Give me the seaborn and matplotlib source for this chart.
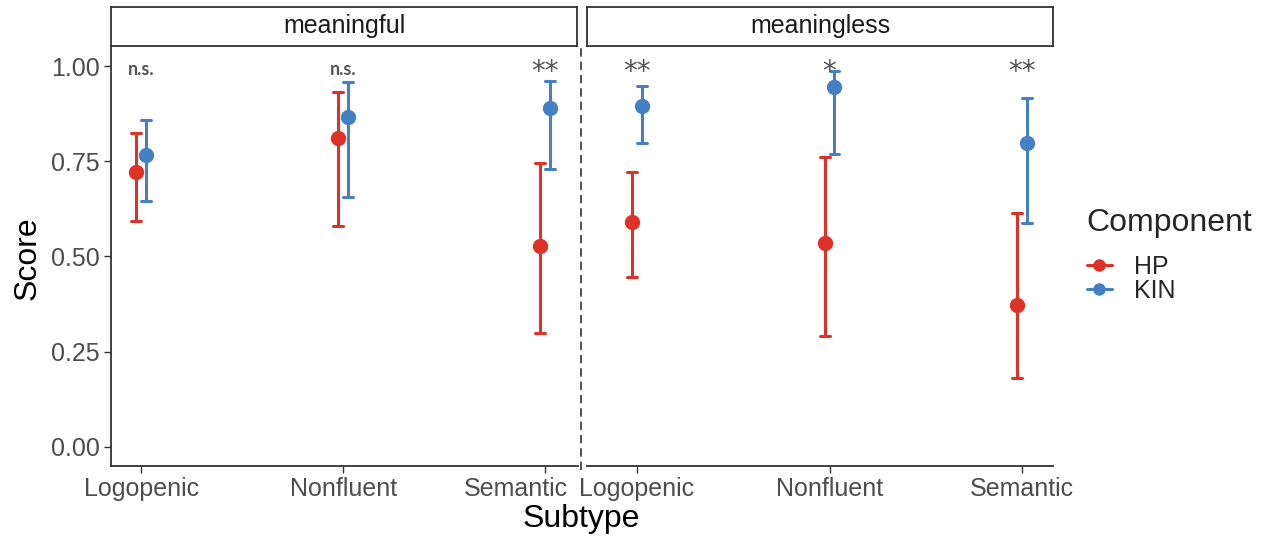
import pandas as pd
import matplotlib
matplotlib.use("Agg")
import matplotlib.pyplot as plt
from matplotlib.lines import Line2D
from matplotlib.transforms import ScaledTranslation
import seaborn as sns

# data
tasks = ["meaningful", "meaningless"]
subtypes = ["Logopenic", "Nonfluent", "Semantic"]
components = ["HP", "KIN"]

meaningful_hp_score = [0.722, 0.811, 0.528]
meaningful_hp_low = [0.592, 0.579, 0.300]
meaningful_hp_high = [0.823, 0.932, 0.745]
meaningful_kin_score = [0.766, 0.866, 0.889]
meaningful_kin_low = [0.645, 0.655, 0.730]
meaningful_kin_high = [0.857, 0.958, 0.961]

meaningless_hp_score = [0.591, 0.535, 0.373]
meaningless_hp_low = [0.447, 0.291, 0.181]
meaningless_hp_high = [0.722, 0.762, 0.613]
meaningless_kin_score = [0.894, 0.944, 0.797]
meaningless_kin_low = [0.798, 0.769, 0.589]
meaningless_kin_high = [0.948, 0.988, 0.915]

meaningful_sig = ["n.s.", "n.s.", "**"]
meaningless_sig = ["**", "*", "**"]

colors = ["#DC3228", "#4480C3"]

series = {
    ("meaningful", "HP"): (meaningful_hp_low, meaningful_hp_score, meaningful_hp_high),
    ("meaningful", "KIN"): (meaningful_kin_low, meaningful_kin_score, meaningful_kin_high),
    ("meaningless", "HP"): (meaningless_hp_low, meaningless_hp_score, meaningless_hp_high),
    ("meaningless", "KIN"): (meaningless_kin_low, meaningless_kin_score, meaningless_kin_high),
}
rows = []
for (task, comp), parts in series.items():
    for part in parts:
        for sub, val in zip(subtypes, part):
            rows.append({"Task": task, "Subtype": sub, "Component": comp, "Score": val})
df = pd.DataFrame(rows)
sig = {"meaningful": meaningful_sig, "meaningless": meaningless_sig}

sns.set_style("white")
plt.rcParams["font.family"] = ["Liberation Sans", "DejaVu Sans"]

W, H = 1265, 537
fig = plt.figure(figsize=(W / 100, H / 100), dpi=100)

def px(x0, y0, x1, y1):
    return [x0 / W, 1 - y1 / H, (x1 - x0) / W, (y1 - y0) / H]

panels = [px(111, 46, 578, 466), px(587, 46, 1053, 466)]
strips = [px(111, 7, 577, 46), px(587, 7, 1053, 46)]
xlims = [(-0.149, 2.163), (-0.26, 2.161)]

for i, task in enumerate(tasks):
    ax = fig.add_axes(panels[i])
    sns.pointplot(data=df[df["Task"] == task], x="Subtype", y="Score", hue="Component",
                  order=subtypes, hue_order=components, palette=colors,
                  estimator="median", errorbar=lambda v: (v.min(), v.max()),
                  dodge=0.05, linestyle="none", markers="o", markersize=9,
                  capsize=0.05, err_kws={"linewidth": 2.2}, legend=False, ax=ax)
    ax.set_xlim(*xlims[i])
    ax.set_ylim(-0.05, 1.0525)
    ax.set_xlabel("")
    ax.set_ylabel("")
    ax.tick_params(axis="both", bottom=True, left=(i == 0), length=5, width=1,
                   color="#333333", labelcolor="#4D4D4D", labelsize=18, pad=3)
    for s in ["top", "right"]:
        ax.spines[s].set_visible(False)
    ax.spines["bottom"].set_color("#333333")
    ax.spines["bottom"].set_linewidth(1.3)
    if i == 0:
        ax.set_yticks([0, 0.25, 0.5, 0.75, 1.0])
        ax.set_yticklabels(["0.00", "0.25", "0.50", "0.75", "1.00"])
        ax.spines["left"].set_color("#333333")
        ax.spines["left"].set_linewidth(1.3)
        lab = ax.get_xticklabels()[2]
        lab.set_transform(lab.get_transform() + ScaledTranslation(-0.29, 0, fig.dpi_scale_trans))
    else:
        ax.set_yticks([])
        ax.spines["left"].set_visible(False)

    for j, s in enumerate(sig[task]):
        if s == "n.s.":
            ax.text(j, 0.99, s, ha="center", va="center", fontsize=13,
                    fontweight="bold", color="#555555", family=["Lato", "DejaVu Sans"])
        else:
            ax.text(j, 0.985, s, ha="center", va="center", fontsize=20,
                    color="#555555", family=["DejaVu Sans"])

    sx = fig.add_axes(strips[i])
    sx.set_xticks([])
    sx.set_yticks([])
    for sp in sx.spines.values():
        sp.set_visible(True)
        sp.set_color("#333333")
        sp.set_linewidth(1.3)
    sx.text(0.5, 0.5, task, ha="center", va="center", fontsize=18,
            color="#1A1A1A", transform=sx.transAxes)

fig.add_artist(Line2D([581 / W, 581 / W], [1 - 470 / H, 1 - 46 / H],
                      transform=fig.transFigure, color="#333333", lw=1.2,
                      linestyle=(0, (5, 3))))

fig.text(28 / W, 1 - 258 / H, "Score", rotation=90, ha="center", va="center",
         fontsize=23, color="black")
fig.text(581 / W, 1 - 519 / H, "Subtype", ha="center", va="center",
         fontsize=23, color="black")

handles = [Line2D([], [], color=c, marker="o", lw=2.2, markersize=8) for c in colors]
leg = fig.legend(handles, components, title="Component", loc="upper left",
                 bbox_to_anchor=(1064 / W, 1 - 186 / H), frameon=False, fontsize=18,
                 title_fontsize=23, handlelength=1.0, labelspacing=0.0,
                 handletextpad=0.9, alignment="left")
leg._legend_box.sep = 12

fig.savefig("out.png", dpi=100)
